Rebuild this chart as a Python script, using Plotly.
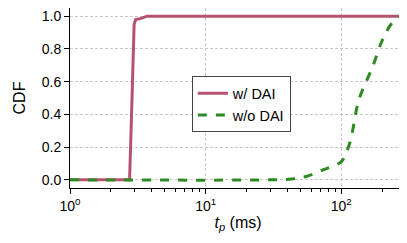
import plotly.graph_objects as go

# Data
with_dai_x = [1, 2.75, 2.82, 2.9, 2.97, 3.05, 3.3, 3.7, 300]
with_dai_y = [0.0, 0.0, 0.3, 0.75, 0.95, 0.98, 0.985, 1.0, 1.0]
without_dai_x = [1, 30, 43, 55, 73, 90, 100, 115, 135, 170, 200, 237, 268, 300]
without_dai_y = [0.0, 0.0, 0.005, 0.02, 0.06, 0.09, 0.11, 0.22, 0.49, 0.69, 0.85, 0.96, 0.995, 1.0]

y_ticks = [0.0, 0.2, 0.4, 0.6, 0.8, 1.0]
x_ticks = [1, 10, 100]
x_ticktext = ["10<sup>0</sup>", "10<sup>1</sup>", "10<sup>2</sup>"]
x_minor = [2, 3, 4, 5, 6, 7, 8, 9, 20, 30, 40, 50, 60, 70, 80, 90, 200, 300]

fig = go.Figure()
fig.add_trace(go.Scatter(x=with_dai_x, y=with_dai_y, mode="lines", name="w/ DAI",
                         line=dict(color="#b5536f", width=3)))
fig.add_trace(go.Scatter(x=without_dai_x, y=without_dai_y, mode="lines", name="w/o DAI",
                         line=dict(color="#2e8a22", width=3, dash="dash", shape="spline")))

# page body has an 8px margin, so the figure is shrunk by 8px and placed at (8, 8)
fig.update_layout(
    width=399, height=235,
    margin=dict(l=62, r=1, t=0, b=55),
    plot_bgcolor="white", paper_bgcolor="white",
    font=dict(family="Liberation Sans, Arial, sans-serif", size=14, color="black"),
    legend=dict(x=0.51, y=0.465, xanchor="center", yanchor="middle",
                bgcolor="white", bordercolor="#444", borderwidth=1,
                font=dict(size=14.5)),
)
fig.update_xaxes(type="log", range=[0, 2.477], tickvals=x_ticks, ticktext=x_ticktext,
                 ticks="outside", ticklen=5, tickcolor="black", automargin=False,
                 showline=True, linecolor="black", linewidth=1, mirror=True,
                 showgrid=True, gridcolor="#c8c8c8", griddash="3px,2px", gridwidth=1,
                 minor=dict(tickvals=x_minor, ticks="outside", ticklen=3, tickcolor="black", showgrid=False),
                 title=dict(text="<i>t</i><sub><i>p</i></sub> (ms)", font=dict(size=16), standoff=0),
                 zeroline=False)
fig.update_yaxes(range=[-0.05, 1.05], tickvals=y_ticks, tickformat=".1f",
                 ticks="outside", ticklen=5, tickcolor="black", automargin=False,
                 showline=True, linecolor="black", linewidth=1, mirror=True,
                 showgrid=True, gridcolor="#c8c8c8", griddash="3px,2px", gridwidth=1,
                 title=dict(text="CDF", font=dict(size=16), standoff=12),
                 zeroline=False)

fig.write_html("out.html")
